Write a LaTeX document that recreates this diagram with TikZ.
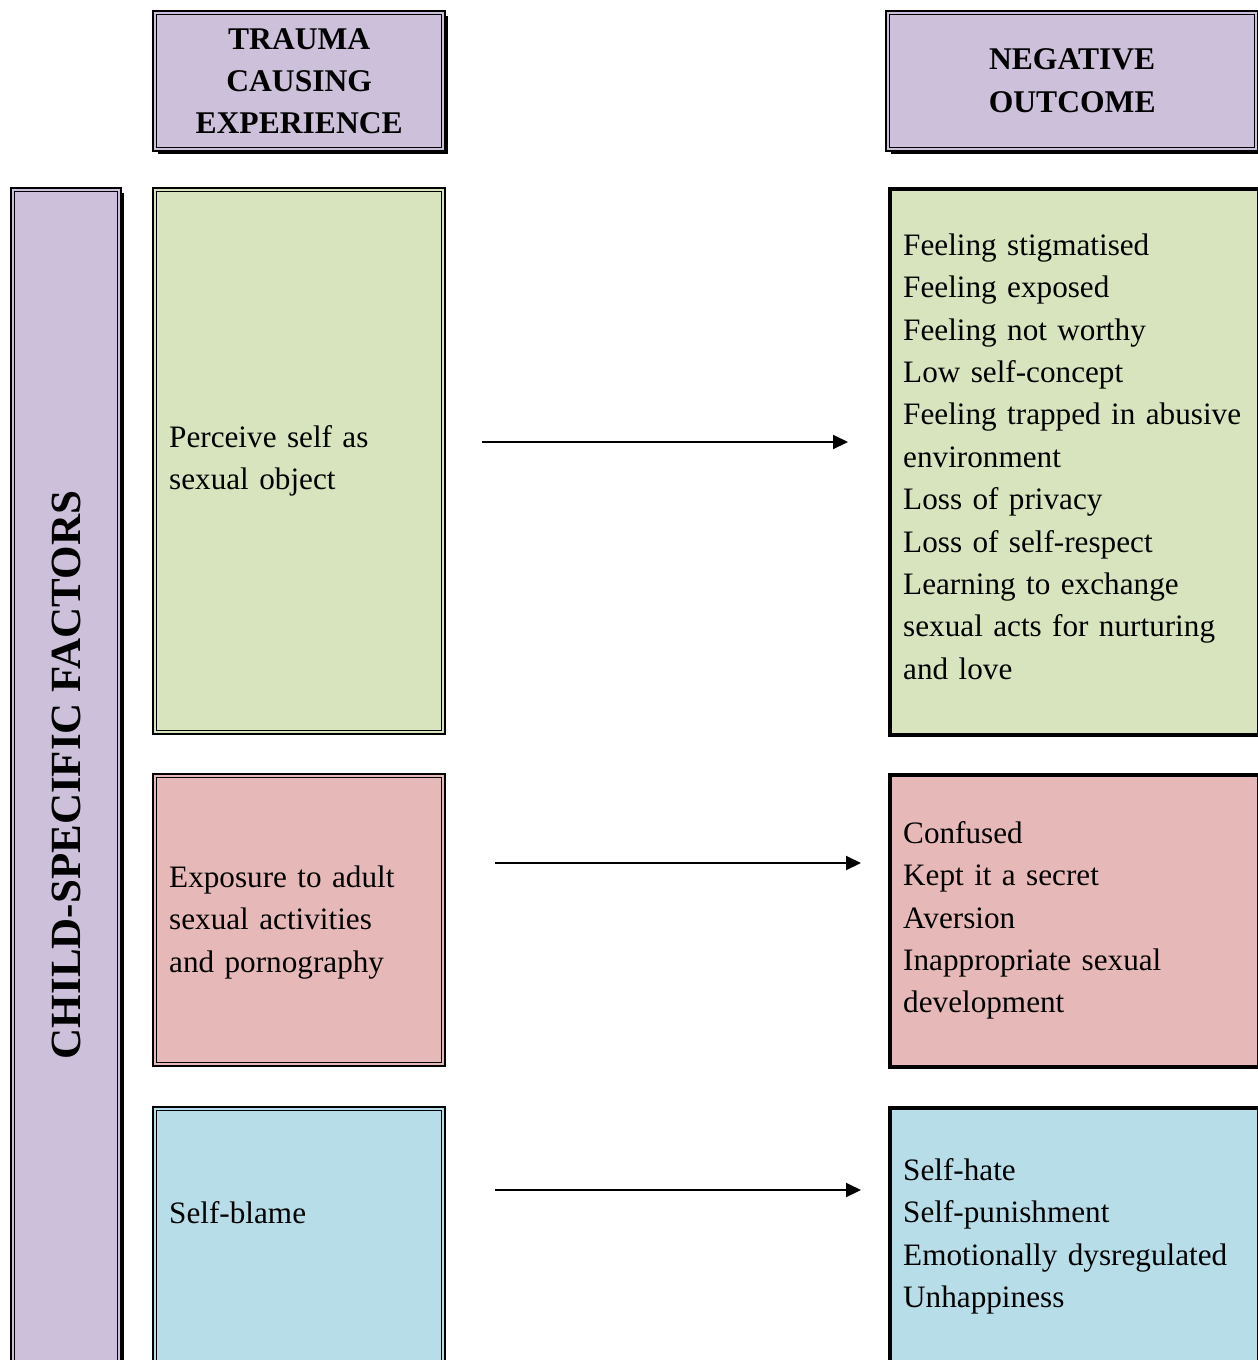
\documentclass[tikz,border=0pt]{standalone}
\usepackage{fontspec}
\setmainfont{Liberation Serif}
\usetikzlibrary{arrows.meta,calc}

\definecolor{lavender}{HTML}{CCC0DA}
\definecolor{sage}{HTML}{D7E4BD}
\definecolor{rose}{HTML}{E6B9B8}
\definecolor{sky}{HTML}{B7DEE8}

\tikzset{
  panel/.style={draw=black, line width=2.4pt, anchor=north west, inner sep=0pt},
  heavypanel/.style={draw=black, line width=4pt, anchor=north west, inner sep=0pt},
  headtext/.style={align=center, inner sep=0pt, font=\fontsize{31.6}{42}\selectfont\bfseries},
  bodytext/.style={anchor=north west, align=left, inner sep=0pt, text width=#1,
                   font=\fontsize{31.2}{42.4}\selectfont},
  flow/.style={-{Triangle[length=15pt,width=14pt]}, line width=2pt},
}
% thin second line inside a box frame
\newcommand\innerline[1]{%
  \draw[line width=1.1pt] ([xshift=4.5pt,yshift=-4.5pt]#1.north west)
    rectangle ([xshift=-4.5pt,yshift=4.5pt]#1.south east);}
% heavier shadow edge along the right and bottom of a frame
\newcommand\shadowedge[1]{%
  \draw[line width=3.6pt] ([yshift=-6pt]#1.north east) -- (#1.south east) -- ([xshift=6pt]#1.south west);}

\begin{document}
\begin{tikzpicture}[x=1pt,y=-1pt]
\useasboundingbox (0,0) rectangle (1258,1360);

% column headings
\node[panel, fill=lavender, minimum width=292pt, minimum height=140pt] (hL) at (152,10) {};
\node[panel, fill=lavender, minimum width=372pt, minimum height=140pt] (hR) at (885,10) {};
\innerline{hL}\innerline{hR}
\shadowedge{hL}\shadowedge{hR}
\node[headtext] at (hL.center) {TRAUMA\\CAUSING\\EXPERIENCE};
\node[headtext, font=\fontsize{31.6}{43}\selectfont\bfseries] at ($(hR.center)+(0,-1)$) {NEGATIVE\\OUTCOME};

% side bar
\node[panel, fill=lavender, minimum width=110pt, minimum height=1200pt] (side) at (10,187) {};
\innerline{side}
\draw[line width=3.6pt] ([yshift=-6pt]side.north east) -- (side.south east);
\node[rotate=90, inner sep=0pt, font=\fontsize{43}{50}\selectfont\bfseries]
  at (66,775) {CHILD-SPECIFIC FACTORS};

% experience boxes
\node[panel, fill=sage, minimum width=292pt, minimum height=546pt] (gL) at (152,187) {};
\node[panel, fill=rose, minimum width=292pt, minimum height=292pt] (pL) at (152,773) {};
\node[panel, fill=sky,  minimum width=292pt, minimum height=280pt] (bL) at (152,1106) {};
\innerline{gL}\innerline{pL}\innerline{bL}

% outcome boxes
\node[heavypanel, fill=sage, minimum width=369pt, minimum height=546pt] (gR) at (888,187) {};
\node[heavypanel, fill=rose, minimum width=369pt, minimum height=292pt] (pR) at (888,773) {};
\node[heavypanel, fill=sky,  minimum width=369pt, minimum height=280pt] (bR) at (888,1106) {};

% experience texts
\node[bodytext=270pt] (tg) at (169,417) {\rule{0pt}{30pt}Perceive self as\\sexual object};
\node[bodytext=270pt] (tp) at (169,857) {\rule{0pt}{30pt}Exposure to adult\\sexual activities\\and pornography};
\node[bodytext=270pt] (tb) at (169,1193) {\rule{0pt}{30pt}Self-blame};

% outcome texts
\node[bodytext=352pt] (og) at (903,225) {\rule{0pt}{30pt}Feeling stigmatised\\Feeling exposed\\Feeling not worthy\\Low self-concept\\Feeling trapped in abusive\\environment\\Loss of privacy\\Loss of self-respect\\Learning to exchange\\sexual acts for nurturing\\and love};
\node[bodytext=352pt] (op) at (903,813) {\rule{0pt}{30pt}Confused\\Kept it a secret\\Aversion\\Inappropriate sexual\\development};
\node[bodytext=352pt] (ob) at (903,1150) {\rule{0pt}{30pt}Self-hate\\Self-punishment\\Emotionally dysregulated\\Unhappiness};

% arrows between the columns
\coordinate (a1s) at (482,442);  \coordinate (a1e) at (848,442);
\coordinate (a2s) at (495,863);  \coordinate (a2e) at (861,863);
\coordinate (a3s) at (495,1190); \coordinate (a3e) at (861,1190);
\draw[flow] (a1s) -- (a1e);
\draw[flow] (a2s) -- (a2e);
\draw[flow] (a3s) -- (a3e);
\end{tikzpicture}
\end{document}
